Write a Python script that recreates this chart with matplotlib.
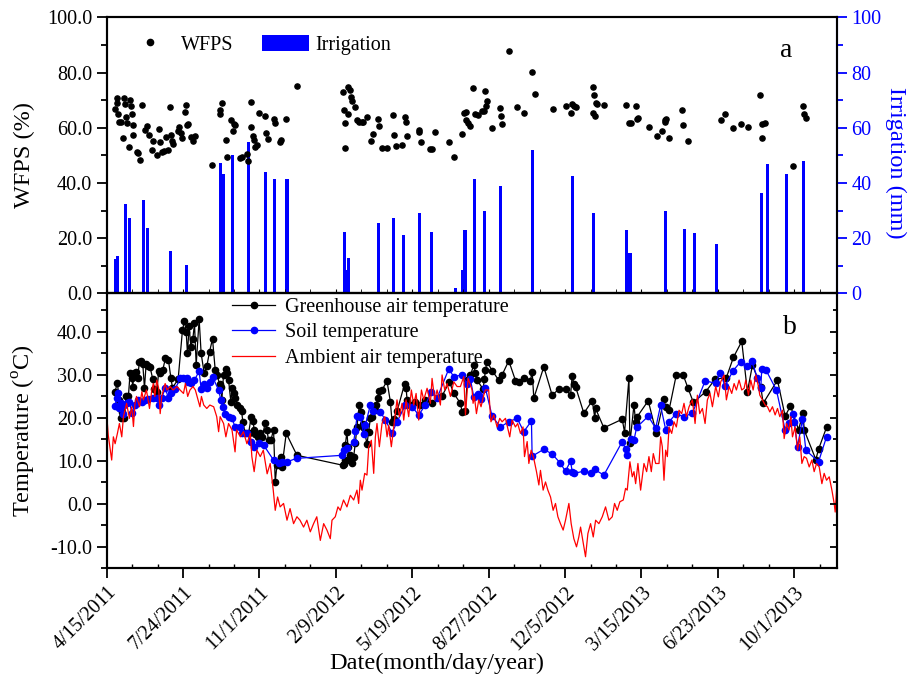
import numpy as np
import matplotlib
matplotlib.use('Agg')
import matplotlib.pyplot as plt
from matplotlib.ticker import MultipleLocator, FormatStrFormatter
from matplotlib.patches import Patch
from matplotlib.lines import Line2D

plt.rcParams['font.family'] = ['Liberation Serif', 'DejaVu Serif']
plt.rcParams['mathtext.fontset'] = 'custom'
plt.rcParams['mathtext.rm'] = 'Liberation Serif'
plt.rcParams['axes.linewidth'] = 1.5

# x values are days since 4/15/2011
tick_days = [0, 100, 200, 300, 400, 500, 600, 700, 800, 900]
tick_labels = ['4/15/2011', '7/24/2011', '11/1/2011', '2/9/2012', '5/19/2012',
               '8/27/2012', '12/5/2012', '3/15/2013', '6/23/2013', '10/1/2013']

# panel a: WFPS (%)
wfps_day = [10.9, 13.1, 14.0, 15.3, 16.6, 18.3, 21.0, 22.7, 24.0, 24.9, 26.2, 28.8, 30.6, 31.9,
            33.2, 34.1, 34.9, 39.3, 41.5, 44.1, 46.7, 49.8, 52.9, 55.9, 59.9, 60.7, 65.5, 68.6,
            69.9, 72.1, 75.1, 77.8, 79.9, 83.0, 83.9, 85.2, 86.9, 93.1, 95.2, 97.4, 99.2, 102.2,
            104.4, 105.7, 107.0, 109.7, 112.7, 115.3,
            138.0, 147.7, 148.5, 150.3, 156.0, 158.1, 162.5, 164.7, 166.9, 168.2, 174.7, 176.5,
            183.9, 185.2, 188.3, 189.2, 191.8, 193.1, 194.0, 196.6, 199.7, 207.1, 208.4, 211.0,
            218.9, 219.7, 227.2, 228.0, 234.6, 248.6,
            309.3, 310.6, 311.5, 311.5, 315.4, 316.3, 318.0, 320.2, 320.7, 325.5, 327.7, 330.3,
            333.8, 336.0, 341.2, 346.0, 348.2, 355.2, 356.5, 360.0, 367.0, 375.3, 376.1, 378.8,
            387.1, 390.1, 391.4, 392.7, 408.5, 409.3, 412.0, 423.8, 425.9, 429.9, 447.8, 454.3,
            465.3, 467.5, 470.1, 470.5, 473.1, 476.2, 480.1, 482.3, 486.2, 491.9, 493.7, 495.0,
            496.7, 498.0, 505.0, 514.2, 516.0, 517.7, 526.0, 537.4,
            546.0, 557.0, 560.0, 584.0, 601.6, 608.1, 609.4, 612.1, 614.7, 636.5, 637.0, 637.8,
            639.6, 640.4, 642.2, 650.9, 680.2, 683.6, 685.8, 692.4, 693.7, 695.0, 709.4, 720.3,
            726.9, 730.4, 730.8, 732.1, 736.6, 753.6, 754.9, 761.0, 803.8, 810.0, 820.4, 830.9,
            839.2, 855.8, 857.6, 861.1, 857.6, 898.2, 911.3, 912.2, 914.8]
wfps_val = [66.8, 70.7, 69.1, 65.0, 62.0, 62.0, 56.3, 70.7, 68.5, 63.8, 61.6, 53.0, 70.0, 67.9,
            65.0, 61.0, 57.4, 51.1, 50.7, 48.3, 68.2, 59.2, 60.7, 57.4, 51.8, 55.2, 50.0, 59.7,
            54.8, 51.1, 51.7, 56.5, 52.1, 67.4, 57.5, 55.1, 54.2, 58.9, 60.4, 58.0, 56.3, 65.7,
            68.2, 61.0, 61.4, 56.8, 55.2, 56.9,
            46.4, 66.3, 65.0, 69.0, 55.4, 49.5, 62.8, 58.8, 61.2, 61.1, 49.0, 49.5,
            50.4, 47.8, 69.3, 60.3, 57.0, 55.4, 53.0, 53.6, 65.2, 64.3, 57.9, 56.0,
            63.3, 61.7, 54.8, 55.4, 63.2, 75.0,
            72.8, 66.4, 61.6, 52.8, 65.1, 74.9, 73.6, 71.3, 69.7, 67.4, 62.9, 62.0,
            62.0, 62.1, 63.9, 55.3, 57.6, 63.3, 60.5, 52.8, 52.8, 64.5, 57.4, 53.4,
            53.9, 64.0, 62.1, 56.9, 59.1, 58.5, 54.7, 52.4, 52.2, 58.5, 55.0, 49.3,
            57.7, 65.2, 65.7, 62.8, 61.6, 60.6, 74.3, 64.9, 64.5, 65.9, 66.1, 73.2,
            68.0, 69.6, 59.8, 67.0, 64.4, 61.4, 87.9, 67.6,
            65.2, 80.3, 72.1, 66.9, 68.0, 65.2, 68.5, 67.9, 67.6, 74.9, 65.2, 72.0,
            64.3, 68.8, 68.5, 68.2, 68.2, 61.8, 61.6, 67.9, 63.2, 63.4, 60.1, 57.0,
            58.8, 62.8, 62.0, 63.0, 56.4, 66.4, 61.1, 55.2, 62.8, 65.1, 60.0, 61.2,
            60.1, 71.9, 61.2, 61.6, 56.3, 46.1, 67.9, 65.0, 63.5]

# panel a: irrigation (mm)
irr_day = [10.9, 14.4, 24.5, 30.1, 48.5, 53.7, 83.9, 104, 149, 153, 165, 186, 208, 220, 236,
           311, 314, 317, 356, 376, 388, 410, 425, 456, 466, 469, 482, 494, 516, 557, 610,
           637, 681, 685, 732, 756, 769, 798, 857, 865, 890, 912]
irr_mm = [12.3, 13.5, 32.5, 27.2, 33.8, 23.6, 15.3, 10.3, 47.2, 43.2, 50.0, 55.0, 44.1, 41.3,
          41.3, 22.2, 8.5, 12.9, 25.5, 27.4, 21.1, 29.1, 22.2, 1.9, 8.5, 22.9, 41.3, 29.8, 38.9,
          51.8, 42.6, 29.1, 22.9, 14.6, 29.8, 23.4, 21.9, 17.9, 36.2, 46.7, 43.2, 48.1]

# panel b: greenhouse air temperature
gh_day = [10.9, 14.0, 16.2, 18.3, 20.1, 22.7, 25.3, 28.4, 30.6, 32.8, 34.1, 35.8, 38.4, 40.6,
          42.8, 45.4, 47.2, 49.4, 51.6, 54.2, 56.8, 60.3, 62.5, 65.5, 68.2, 70.3, 73.4, 76.9,
          80.8, 83.9, 86.1, 93.5, 99.2, 101.8, 104.0, 105.7, 107.9, 110.1, 112.7, 114.9, 117.1,
          121.0, 123.6, 127.6, 131.1, 134.6, 138.5, 142.0, 144.2, 147.7, 149.8, 150.7, 152.9,
          156.0, 158.1, 159.5, 162.5, 164.3, 166.9, 168.2, 170.4, 173.9, 176.5, 178.2, 181.3,
          185.7, 189.2, 191.3, 193.1, 194.4, 197.5, 200.1, 203.6, 207.5, 209.7, 211.9, 214.9,
          218.4, 220.6, 222.8, 227.6, 229.4, 235.0, 249.0, 308.8, 310.6, 311.5, 312.3, 314.5,
          315.8, 316.7, 318.9, 321.1, 323.3, 325.4, 327.6, 330.7, 333.3, 335.1, 336.8, 340.7,
          342.9, 345.1, 347.3, 350.8, 352.5, 355.1, 356.9, 360.4, 366.9, 371.3, 373.5, 375.7,
          380.0, 390.1, 391.9, 393.2, 397.5, 404.1, 410.6, 417.2, 425.9, 439.0, 448.6, 454.3,
          463.1, 465.2, 469.6, 471.8, 476.2, 480.5, 482.7, 484.8, 492.7, 494.4, 495.8, 497.9,
          504.5, 513.2, 517.6, 526.3, 535.1, 539.4, 546.0, 554.7, 556.9, 559.1, 572.2, 583.1,
          591.9, 600.6, 607.2, 609.3, 611.5, 613.7, 624.6, 635.6, 639.0, 639.9, 650.8, 674.9,
          677.9, 683.6, 684.9, 690.2, 692.4, 694.5, 708.9, 719.5, 729.5, 731.7, 736.1, 745.7,
          754.4, 761.0, 768.0, 784.1, 796.4, 811.2, 820.4, 831.3, 838.7, 845.3, 856.2, 859.3,
          878.1, 888.1, 895.1, 905.6, 911.7, 913.0, 928.3, 931.8, 942.3]
gh_temp = [26.1, 28.2, 24.2, 19.9, 21.4, 19.9, 25.1, 25.1, 30.4, 29.4, 27.3, 30.4, 30.8, 29.4,
           33.1, 33.3, 32.6, 26.9, 32.6, 32.1, 31.8, 29.0, 26.7, 26.1, 31.0, 30.5, 31.2, 33.9,
           33.5, 29.4, 27.0, 29.0, 40.5, 42.6, 40.1, 35.0, 41.4, 36.6, 38.3, 42.0, 32.3,
           43.0, 35.0, 30.4, 32.1, 35.4, 38.4, 31.2, 30.0, 28.0, 27.3, 24.2, 30.0,
           31.3, 30.4, 28.8, 23.8, 26.9, 25.7, 24.6, 23.0, 22.2, 21.7, 19.1, 16.4,
           16.4, 20.3, 19.3, 17.3, 16.2, 15.6, 16.4, 15.6, 18.9, 17.2, 14.8, 14.8,
           17.3, 5.1, 9.0, 11.0, 8.6, 16.4, 11.3, 9.0, 9.2, 10.2, 13.7, 16.8,
           13.3, 10.2, 11.3, 9.4, 11.0, 14.1, 17.9, 23.0, 21.4, 18.7, 17.6, 13.9,
           16.8, 19.9, 20.3, 21.8, 23.0, 24.6, 26.3, 26.5, 28.6, 23.8, 19.1, 19.7,
           21.5, 28.0, 27.0, 24.2, 23.0, 23.8, 23.0, 24.2, 23.4, 25.1, 28.4, 25.7,
           23.4, 21.4, 21.7, 28.8, 30.0, 32.3, 30.4, 28.8, 26.7, 29.0, 31.2, 33.1,
           31.0, 28.8, 30.0, 33.3, 28.7, 28.4, 29.4, 28.7, 30.8, 24.6, 31.9, 25.3,
           26.7, 26.7, 25.3, 29.8, 28.0, 27.3, 21.1, 24.0, 19.9, 22.2, 17.7, 19.7,
           16.6, 29.2, 14.1, 23.0, 19.1, 20.3, 24.0, 16.4, 24.3, 22.5, 21.8, 30.1,
           30.1, 26.9, 23.6, 26.1, 29.0, 29.4, 34.1, 37.8, 26.1, 32.3, 27.3, 23.4,
           28.8, 20.4, 22.8, 17.3, 21.1, 17.2, 10.3, 12.7, 17.8]

# panel b: soil temperature
soil_day = [10.9, 13.1, 14.4, 16.6, 18.8, 21.0, 22.7, 26.2, 29.7, 32.8, 37.1, 41.5, 45.9, 50.2,
            54.6, 61.2, 65.5, 69.0, 72.1, 76.5, 80.8, 84.3, 89.6, 96.1, 99.6, 104.8, 107.0,
            110.1, 114.9, 121.0, 123.6, 128.0, 131.9, 135.4, 138.5, 146.4, 149.4, 151.6, 155.1,
            159.5, 163.8, 168.2, 173.9, 177.0, 183.5, 188.7, 192.2, 198.8, 205.3, 218.4, 225.0,
            229.4, 236.0, 249.0, 308.0, 310.2, 314.5, 323.3, 325.4, 327.6, 332.0, 336.4, 338.5,
            345.1, 348.2, 358.2, 364.8, 373.5, 380.1, 391.0, 399.7, 408.4, 417.2, 425.0, 432.5,
            447.8, 454.3, 465.2, 471.8, 476.1, 480.5, 486.0, 490.0, 495.8, 504.5, 515.4, 526.3,
            537.3, 546.0, 556.0, 556.9, 572.2, 583.1, 593.2, 600.6, 607.2, 609.3, 611.5, 624.6,
            633.4, 638.6, 650.8, 674.9, 679.3, 680.5, 685.8, 690.2, 693.7, 708.9, 718.6, 725.0,
            731.7, 736.1, 744.8, 755.7, 766.7, 783.3, 797.2, 802.9, 809.5, 820.0, 830.0, 838.7,
            844.4, 851.8, 856.2, 857.5, 862.8, 876.7, 888.1, 893.3, 898.6, 899.9, 904.3, 910.8,
            915.2, 931.8, 942.3]
soil_temp = [22.8, 24.6, 25.7, 22.2, 23.4, 20.9, 23.0, 23.5, 23.8, 21.2, 23.0, 24.2, 23.8, 24.2,
             24.3, 24.6, 24.6, 23.0, 24.6, 27.0, 24.6, 25.7, 26.7, 29.2, 29.2, 29.4, 28.4,
             28.2, 28.8, 30.9, 26.7, 28.0, 26.9, 28.4, 29.6, 26.5, 24.2, 22.6, 20.9,
             20.3, 19.9, 17.9, 17.8, 16.4, 16.5, 14.5, 13.3, 14.1, 13.7, 10.2, 9.4,
             9.8, 9.8, 10.6, 11.3, 12.5, 12.9, 14.5, 16.9, 20.4, 20.3, 16.2, 18.3,
             23.0, 21.7, 21.4, 19.5, 16.5, 19.1, 23.0, 22.6, 20.7, 23.0, 26.1, 24.6,
             31.4, 29.6, 30.0, 27.9, 29.0, 24.9, 25.5, 24.5, 26.9, 20.4, 17.9, 19.1,
             19.9, 16.8, 19.3, 11.1, 12.7, 11.6, 9.6, 7.6, 10.0, 7.5, 7.1, 7.6,
             7.2, 8.0, 6.7, 14.5, 12.7, 11.3, 15.2, 14.8, 17.8, 20.4, 17.6, 22.9,
             17.3, 19.1, 20.9, 20.3, 21.1, 28.6, 28.1, 30.4, 27.5, 31.0, 33.1, 32.1,
             33.3, 29.2, 26.9, 31.5, 31.2, 26.5, 17.2, 18.9, 20.9, 19.1, 13.3, 19.7,
             12.5, 9.8, 15.6]

# panel b: ambient air temperature
amb_day = [0, 2, 6.5, 8.7, 11, 14, 16.6, 19.7, 21.9, 26, 29.7, 32.8, 35, 37, 39, 43, 46, 48, 52,
           56, 59, 61, 63, 65.5, 68, 70, 72, 76.5, 79, 83, 87, 92, 96, 100.5, 103, 106, 109, 113,
           116, 122, 124, 127, 131, 135, 140, 144, 146.5, 148.5, 153, 156, 159.5, 164, 168, 170,
           175, 179, 183.5, 188, 190, 193, 196.6, 201, 205, 210, 214, 218, 220.6, 223.7, 227,
           231.5, 236, 240, 244.6, 249, 253, 257.7, 262, 266.5, 270.8, 275, 279.6, 284, 288.3,
           292.7, 294.9, 299.2, 302.7, 305.8, 310, 314.5, 318.9, 323.3, 327.6, 329.8, 332, 334.2,
           337.7, 340.7, 343, 346.4, 349.5, 351.7, 353.8, 356.9, 360.4, 363.9, 367, 369.1, 372.6,
           375.7, 380, 383.1, 386.6, 388.8, 391.9, 395.3, 398.8, 401.9, 405, 408.4, 412, 415,
           419.4, 423.7, 425.9, 429.4, 432.5, 436.8, 439, 442.5, 445.6, 450, 454.3, 458.7, 463,
           467.4, 469.6, 473.1, 478.3, 479.6, 481.3, 484, 487, 490, 493.6, 495.8, 500, 503,
           506.7, 511, 514.5, 517.6, 522, 527.6, 530.7, 535, 538, 541.6, 545, 546.9, 550.4,
           552.6, 555.6, 559, 562.6, 565.7, 567.8, 571.3, 574.4, 577.5, 581, 584.4, 587.5, 590.6,
           594, 597.5, 600.6, 605, 608, 611.5, 615, 618, 620.3, 623.8, 626.8, 629.9, 633.4,
           636.9, 640, 644.3, 648.7, 653, 657.4, 661.8, 664.8, 668.3, 671.8, 676.2, 679.2, 681.4,
           684.9, 688, 690.2, 692.4, 695.4, 698.9, 701.1, 703.3, 706.8, 709.8, 712.9, 715.5,
           718.6, 723, 725.1, 727.3, 729.5, 731.7, 733.9, 736.1, 739.6, 742.6, 745.7, 749.2,
           752.7, 755.7, 758.8, 762.3, 766.7, 770.2, 773.2, 776.3, 779.8, 783.3, 786.3, 789.8,
           792.9, 797.2, 800.7, 803.8, 808.2, 811.2, 814.7, 818.2, 821.3, 824.3, 827.8, 831.3,
           834.4, 836.6, 840.1, 843.1, 846.2, 849.7, 853.2, 854.9, 858.4, 861.9, 865, 868, 871.5,
           875, 878.1, 881.1, 884.6, 886.8, 889.9, 893.3, 895.5, 897.7, 901.2, 904.3, 907.3, 910,
           913, 916.1, 919.6, 923.1, 926.1, 929.2, 932.7, 936.2, 939.2, 942.3, 945.8, 949.3,
           952.3, 953.6, 955.4]
amb_temp = [20.7, 16.0, 10.2, 15.6, 14.0, 16.4, 18.7, 15.6, 20.3, 23.4, 19.9, 22.6, 18.0, 23.4,
            25.0, 22.6, 26.1, 24.2, 26.5, 22.2, 26.5, 28.0, 25.0, 28.8, 26.9, 21.0, 25.0, 28.0,
            26.5, 27.3, 26.5, 27.3, 26.5, 25.7, 28.0, 25.0, 26.5, 27.3, 26.5, 22.6, 25.0, 23.0,
            22.2, 23.0, 22.6, 20.3, 16.8, 20.3, 18.7, 15.6, 18.7, 17.2, 12.1, 17.2, 15.6, 16.8,
            14.0, 16.4, 11.0, 7.5, 12.5, 11.0, 12.5, 7.0, 9.4, 3.2, -1.5, 1.6, -0.7, 0.1, -3.8,
            -1.1, -4.6, -3.0, -3.8, -5.4, -3.8, -6.5, -4.6, -3.0, -8.5, -4.6, -6.1, -8.1, -3.8,
            -3.0, -0.7, -1.5, 0.9, -0.7, 2.0, 0.9, 3.2, 0.1, 5.5, 3.2, 7.1, 6.7, 13.3, 14.8, 7.1,
            15.6, 18.7, 13.3, 18.7, 20.3, 15.6, 18.3, 13.3, 17.9, 24.2, 20.3, 23.4, 19.5, 24.2,
            20.3, 26.5, 23.0, 25.7, 19.5, 26.5, 24.2, 26.9, 23.4, 29.2, 24.2, 26.5, 23.0, 30.0,
            26.5, 28.0, 25.0, 28.4, 27.3, 27.3, 29.6, 20.7, 29.2, 26.5, 23.4, 25.0, 21.0, 24.2,
            22.6, 25.3, 26.5, 26.5, 19.1, 20.7, 17.9, 19.9, 19.1, 19.9, 15.6, 19.5, 17.9, 18.7,
            16.4, 17.9, 11.0, 14.5, 9.4, 12.5, 10.6, 7.5, 4.4, 7.8, 3.2, 5.1, 3.2, 1.6, -1.5,
            0.1, -3.0, -4.6, -6.1, -3.8, 0.1, -4.6, -8.1, -10.0, -7.7, -5.4, -9.2, -12.3, -6.9,
            -4.6, -7.7, -3.8, -4.6, -3.0, -0.7, -3.8, -3.0, 0.1, -1.5, 0.5, 0.9, 3.6, 3.2, 9.8,
            6.3, 7.5, 4.7, 9.4, 3.2, 6.3, 9.4, 7.5, 11.0, 7.5, 11.7, 9.4, 9.4, 15.6, 13.3, 5.5,
            12.5, 11.0, 17.9, 16.4, 19.1, 17.9, 21.8, 21.0, 23.4, 20.3, 22.6, 24.2, 18.7, 25.3,
            21.0, 22.2, 18.7, 24.2, 25.7, 22.6, 27.3, 24.9, 28.4, 30.0, 24.2, 27.3, 25.7, 28.0,
            26.5, 28.8, 26.5, 26.9, 28.8, 25.3, 28.8, 26.5, 30.0, 27.3, 25.3, 24.2, 23.0, 22.6,
            21.4, 22.6, 20.7, 22.2, 20.3, 21.8, 15.2, 18.7, 17.2, 20.3, 15.6, 17.9, 12.5, 15.6,
            9.4, 11.0, 10.6, 8.6, 10.2, 7.5, 9.4, 8.6, 4.7, 7.1, 5.5, 6.3, 3.2, 0.1, -1.9, 3.2]

fig = plt.figure(figsize=(9.09, 6.84), dpi=100)
ax1 = fig.add_axes([0.1174, 0.5712, 0.8034, 0.4035])
ax2 = fig.add_axes([0.1174, 0.1691, 0.8034, 0.4021])
ax1r = ax1.twinx()
ax2r = ax2.twinx()

fs_tick = 14.5
fs_label = 17.5

# ---- panel a ----
ax1.scatter(wfps_day, wfps_val, s=14, color='black', zorder=3)
ax1r.bar(irr_day, irr_mm, width=4, color='#0000ff', edgecolor='none')
ax1.set_zorder(ax1r.get_zorder() + 1)
ax1.patch.set_visible(False)

ax1.set_xlim(0, 956)
ax1.set_ylim(0, 100)
ax1r.set_ylim(0, 100)
ax1.yaxis.set_major_locator(MultipleLocator(20))
ax1.yaxis.set_minor_locator(MultipleLocator(10))
ax1.yaxis.set_major_formatter(FormatStrFormatter('%.1f'))
ax1r.yaxis.set_major_locator(MultipleLocator(20))
ax1r.yaxis.set_minor_locator(MultipleLocator(10))
ax1.xaxis.set_major_locator(MultipleLocator(100))
ax1.xaxis.set_minor_locator(MultipleLocator(100 / 3))
ax1.tick_params(axis='y', which='major', direction='out', length=7, width=1.3, labelsize=fs_tick)
ax1.tick_params(axis='y', which='minor', direction='out', length=4, width=1.3)
ax1.tick_params(axis='x', which='both', direction='in', labelbottom=False, top=False, length=3)
ax1r.tick_params(axis='y', which='major', direction='out', length=7, width=1.3,
                 labelsize=fs_tick, colors='#0000ff')
ax1r.tick_params(axis='y', which='minor', direction='out', length=4, width=1.3, colors='#0000ff')
ax1r.spines['right'].set_color('#0000ff')

h_wfps = Line2D([], [], marker='o', linestyle='none', color='black', markersize=4.5)
h_irr = Patch(facecolor='#0000ff', edgecolor='none')
ax1.legend([h_wfps, h_irr], ['WFPS', 'Irrigation'], ncol=2, loc='center left',
           bbox_to_anchor=(0.028, 0.90), frameon=False, fontsize=fs_tick,
           handlelength=2.3, handleheight=0.85, handletextpad=0.35, columnspacing=1.45,
           borderpad=0, borderaxespad=0)
ax1.text(0.93, 0.88, 'a', transform=ax1.transAxes, fontsize=20, ha='center', va='center')

# ---- panel b ----
ax2.plot(gh_day, gh_temp, color='black', lw=0.9, marker='o', markersize=4.5,
         label='Greenhouse air temperature')
ax2.plot(soil_day, soil_temp, color='#0000ff', lw=0.9, marker='o', markersize=4.5,
         label='Soil temperature')
ax2.plot(amb_day, amb_temp, color='red', lw=0.9, label='Ambient air temperature')

ax2.set_xlim(0, 956)
for a in (ax2, ax2r):
    a.set_ylim(-15, 49)
    a.yaxis.set_major_locator(MultipleLocator(10))
    a.yaxis.set_minor_locator(MultipleLocator(5))
ax2.yaxis.set_major_formatter(FormatStrFormatter('%.1f'))
ax2.set_xticks(tick_days)
ax2.set_xticklabels(tick_labels, rotation=45, ha='right', rotation_mode='anchor')
ax2.xaxis.set_minor_locator(MultipleLocator(100 / 3))
ax2.tick_params(axis='y', which='major', direction='out', length=7, width=1.3, labelsize=fs_tick)
ax2.tick_params(axis='y', which='minor', direction='out', length=4, width=1.3)
ax2r.tick_params(axis='y', which='major', direction='in', length=5, width=1.3, labelright=False)
ax2r.tick_params(axis='y', which='minor', direction='in', length=3, width=1.3)
ax2.tick_params(axis='x', which='major', direction='out', length=7, width=1.3, labelsize=fs_tick)
ax2.tick_params(axis='x', which='minor', direction='in', length=3, width=1.0)
ax2.legend(loc='upper left', bbox_to_anchor=(0.1716, 0.982), frameon=False, fontsize=fs_tick,
           handlelength=2.15, handletextpad=0.5, labelspacing=0.3, borderpad=0,
           borderaxespad=0)
ax2.text(0.935, 0.875, 'b', transform=ax2.transAxes, fontsize=20, ha='center', va='center')

fig.text(24 / 909, 1 - 155 / 684, 'WFPS (%)', rotation=90, ha='center', va='center',
         fontsize=fs_label)
fig.text(24 / 909, 1 - 431 / 684, 'Temperature ($^{\\mathrm{o}}$C)', rotation=90,
         ha='center', va='center', fontsize=fs_label)
fig.text(896 / 909, 1 - 163 / 684, 'Irrigation (mm)', rotation=270, ha='center', va='center',
         fontsize=fs_label, color='#0000ff')
fig.text(437 / 909, 1 - 663 / 684, 'Date(month/day/year)', ha='center', va='center',
         fontsize=fs_label)

fig.savefig('out.png', dpi=100)
